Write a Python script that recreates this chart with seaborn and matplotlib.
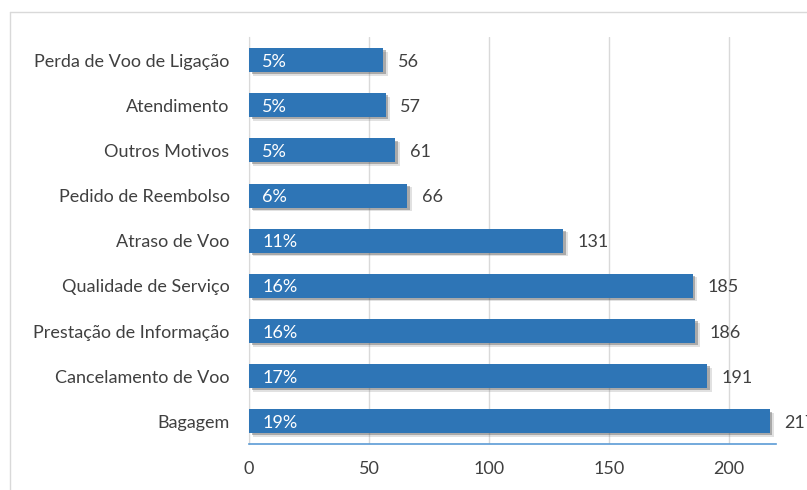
import pandas as pd
import matplotlib as mpl
import matplotlib.pyplot as plt
import matplotlib.patheffects as pe
import seaborn as sns

motivos = ['Perda de Voo de Ligação', 'Atendimento', 'Outros Motivos', 'Pedido de Reembolso',
           'Atraso de Voo', 'Qualidade de Serviço', 'Prestação de Informação',
           'Cancelamento de Voo', 'Bagagem']
reclamacoes = [56, 57, 61, 66, 131, 185, 186, 191, 217]
percentagens = ['5%', '5%', '5%', '6%', '11%', '16%', '16%', '17%', '19%']

df = pd.DataFrame({'motivo': motivos, 'n': reclamacoes, 'pct': percentagens})

sns.set_style('white')
plt.rcParams['font.family'] = ['Lato', 'DejaVu Sans']

fig = plt.figure(figsize=(8.07, 4.9), dpi=100)
ax = fig.add_axes([249/807, 1 - 444/490, (776-249)/807, (444-37.5)/490])

# outer chart border (cropped)
fig.add_artist(plt.Line2D([10/807, 10/807], [0, 1 - 12/490], color='#d9d9d9', lw=1, transform=fig.transFigure))
fig.add_artist(plt.Line2D([10/807, 1], [1 - 12/490, 1 - 12/490], color='#d9d9d9', lw=1, transform=fig.transFigure))

sns.barplot(data=df, y='motivo', x='n', color='#2e75b6', saturation=1, width=0.53, ax=ax, zorder=3)

for bar in ax.patches:
    bar.set_edgecolor('none')
    bar.set_path_effects([pe.SimplePatchShadow(offset=(3, -2.5), shadow_rgbFace='#888888', alpha=0.25),
                          pe.SimplePatchShadow(offset=(1.8, -1.5), shadow_rgbFace='#555555', alpha=0.4),
                          pe.Normal()])

for i, (n, p) in enumerate(zip(reclamacoes, percentagens)):
    ax.text(5.5, i, p, color='white', fontsize=13, va='center_baseline', ha='left', zorder=4)
    ax.text(n + 6, i, str(n), color='#404040', fontsize=13, va='center_baseline', ha='left', zorder=4)

ax.set_xlim(0, 219.6)
ax.set_ylim(8.5, -0.5)
ax.set_xticks([0, 50, 100, 150, 200])
ax.xaxis.grid(True, color='#d9d9d9', lw=1, zorder=0)
ax.set_axisbelow(True)
ax.set_xlabel('')
ax.set_ylabel('')

for s in ['top', 'right']:
    ax.spines[s].set_visible(False)
ax.spines['left'].set_color('#d9d9d9')
ax.spines['bottom'].set_color('#5b9bd5')
ax.spines['bottom'].set_linewidth(1.2)

ax.tick_params(axis='x', direction='in', length=6, color='#5b9bd5', pad=12, labelsize=13, labelcolor='#404040')
ax.tick_params(axis='y', length=0, pad=14, labelsize=13, labelcolor='#404040')
# small boundary ticks on the category axis
ax.set_yticks([i + 0.5 for i in range(-1, 9)], minor=True)
ax.tick_params(axis='y', which='minor', direction='out', length=5, color='#d9d9d9')

fig.savefig('out.png', dpi=100)
